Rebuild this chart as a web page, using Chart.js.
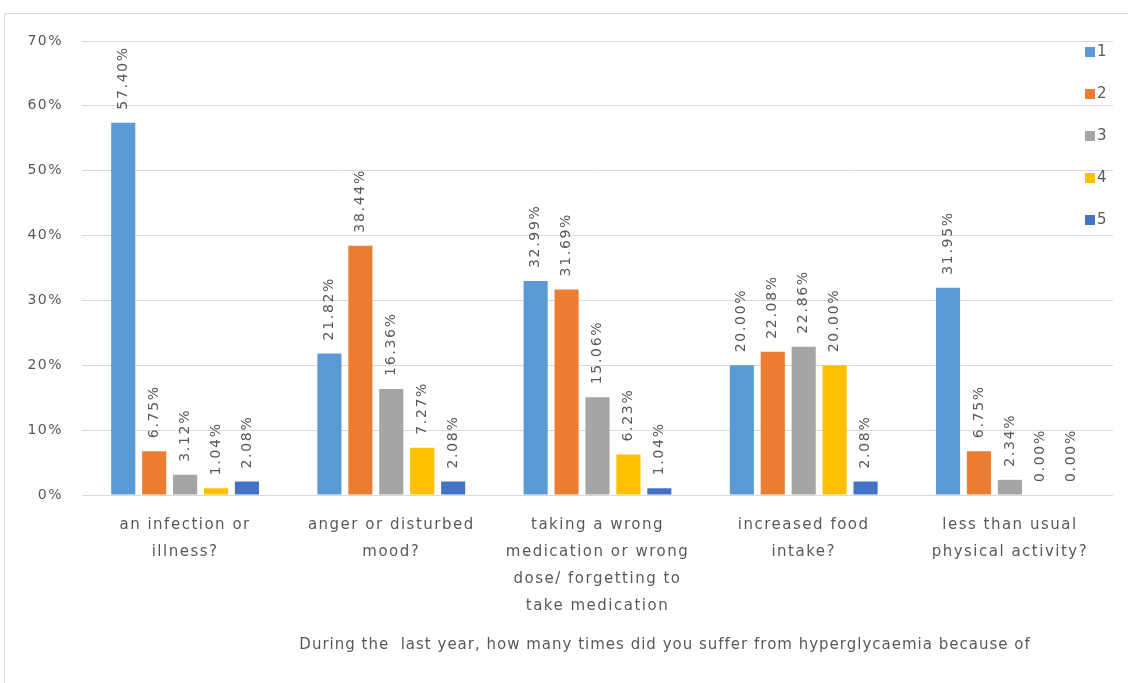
<!DOCTYPE html>
<html>
<head>
<meta charset="utf-8">
<script src="https://cdn.jsdelivr.net/npm/chart.js@4.4.1/dist/chart.umd.min.js"></script>
<style>
  body { margin: 0; background: #fff; }
  #frame { position: absolute; left: 4px; top: 13px; width: 1140px; height: 700px; border: 1px solid #d9d9d9; }
  #wrap { position: absolute; left: 0; top: 0; width: 1128px; height: 683px; }
</style>
</head>
<body>
<div id="frame"></div>
<div id="wrap"><canvas id="chart" width="1128" height="683"></canvas></div>
<script>
// categories (x axis)
const categories = [
    ['an infection or', 'illness?'],
    ['anger or disturbed', 'mood?'],
    ['taking a wrong', 'medication or wrong', 'dose/ forgetting to', 'take medication'],
    ['increased food', 'intake?'],
    ['less than usual', 'physical activity?']
];
const seriesNames = ['1', '2', '3', '4', '5'];
const colors = ['#5b9bd5', '#ed7d31', '#a5a5a5', '#ffc000', '#4472c4'];

// percentages per series
const s1 = [57.40, 21.82, 32.99, 20.00, 31.95];
const s2 = [6.75, 38.44, 31.69, 22.08, 6.75];
const s3 = [3.12, 16.36, 15.06, 22.86, 2.34];
const s4 = [1.04, 7.27, 6.23, 20.00, 0.00];
const s5 = [2.08, 2.08, 1.04, 2.08, 0.00];

const yTicks = [0, 10, 20, 30, 40, 50, 60, 70];
const axisTitle = 'During the  last year, how many times did you suffer from hyperglycaemia because of';

const font = "'DejaVu Sans', sans-serif";
const grey = '#595959';

// wider letter spacing for the axis text, like the original
const spacing = {
    id: 'spacing',
    beforeDraw(chart) { chart.ctx.letterSpacing = '1.5px'; }
};

// rotated value labels above each bar
const barLabels = {
    id: 'barLabels',
    afterDatasetsDraw(chart) {
        const ctx = chart.ctx;
        ctx.save();
        ctx.font = '14px ' + font;
        ctx.letterSpacing = '1.7px';
        ctx.fillStyle = grey;
        ctx.textAlign = 'left';
        ctx.textBaseline = 'middle';
        chart.data.datasets.forEach((ds, i) => {
            chart.getDatasetMeta(i).data.forEach((bar, j) => {
                ctx.save();
                ctx.translate(bar.x, bar.y - 13);
                ctx.rotate(-Math.PI / 2);
                ctx.fillText(ds.data[j].toFixed(2) + '%', 0, 0);
                ctx.restore();
            });
        });
        ctx.restore();
    }
};

// legend over the right side of the plot + axis title
const extras = {
    id: 'extras',
    afterDraw(chart) {
        const ctx = chart.ctx;
        ctx.save();
        ctx.font = '15px ' + font;
        ctx.letterSpacing = '1px';
        ctx.textBaseline = 'middle';
        chart.data.datasets.forEach((ds, i) => {
            const y = 52 + i * 42;
            ctx.fillStyle = ds.backgroundColor;
            ctx.fillRect(1085, y - 5, 10, 10);
            ctx.fillStyle = grey;
            ctx.fillText(ds.label, 1097, y);
        });
        ctx.letterSpacing = '1px';
        ctx.textAlign = 'center';
        ctx.fillText(axisTitle, 665, 645);
        ctx.restore();
    }
};

const seriesData = [s1, s2, s3, s4, s5];

new Chart(document.getElementById('chart'), {
    type: 'bar',
    data: {
        labels: categories,
        datasets: seriesData.map((d, i) => ({
            label: seriesNames[i],
            data: d,
            backgroundColor: colors[i],
            categoryPercentage: 0.75,
            barPercentage: 0.78
        }))
    },
    options: {
        responsive: false,
        animation: false,
        layout: { padding: { left: 10, right: 15, top: 41, bottom: 20 } },
        plugins: { legend: { display: false }, tooltip: { enabled: false } },
        scales: {
            x: {
                grid: { display: false },
                border: { display: false },
                ticks: { color: grey, font: { family: font, size: 15, lineHeight: 1.8 }, maxRotation: 0, autoSkip: false, padding: 9 },
                afterFit(s) { s.height = 168; }
            },
            y: {
                min: 0,
                max: 70,
                afterBuildTicks(s) { s.ticks = yTicks.map(v => ({ value: v })); },
                grid: { color: '#d9d9d9', drawTicks: false },
                border: { display: false },
                ticks: { color: grey, font: { family: font, size: 14 }, padding: 19, callback: v => v + '%' },
                afterFit(s) { s.width = 72; }
            }
        }
    },
    plugins: [spacing, barLabels, extras]
});
</script>
</body>
</html>
